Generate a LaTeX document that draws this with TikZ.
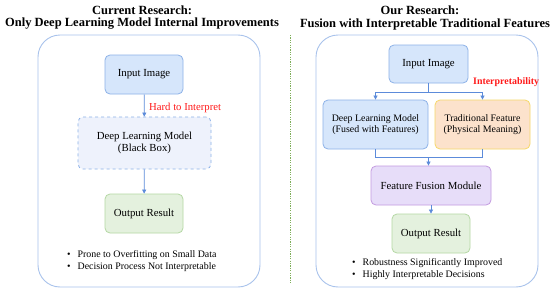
\documentclass[tikz,border=0pt]{standalone}
\usepackage{fontspec}
\setmainfont{Liberation Serif}
\usetikzlibrary{arrows.meta}
\definecolor{panelc}{HTML}{A9C3EC}
\definecolor{bluefill}{HTML}{D6E6FB}
\definecolor{blueline}{HTML}{8DB2E8}
\definecolor{dashfill}{HTML}{EEF2FC}
\definecolor{greenfill}{HTML}{E4F1DE}
\definecolor{greenline}{HTML}{B5D8A4}
\definecolor{orangefill}{HTML}{FCE2CC}
\definecolor{orangeline}{HTML}{F6D869}
\definecolor{purplefill}{HTML}{E7DDF9}
\definecolor{purpleline}{HTML}{C39BE0}
\definecolor{arrowc}{HTML}{5C8BDA}
\definecolor{redc}{HTML}{FF1A1A}
\definecolor{sepc}{HTML}{7FAE5A}
\tikzset{
  panel/.style={draw=panelc, line width=0.9pt, rounded corners=22pt},
  boxbase/.style={rounded corners=5pt, line width=0.8pt, align=center, inner sep=0pt, font=\fontsize{10.8}{12.5}\selectfont},
  smalltext/.style={font=\fontsize{9.9}{11.5}\selectfont},
  bluebox/.style={boxbase, draw=blueline, fill=bluefill},
  dashbox/.style={boxbase, draw=blueline, fill=dashfill, dashed},
  greenbox/.style={boxbase, draw=greenline, fill=greenfill},
  orangebox/.style={boxbase, draw=orangeline, fill=orangefill},
  purplebox/.style={boxbase, draw=purpleline, fill=purplefill},
  conn/.style={draw=arrowc, line width=0.7pt},
  arr/.style={conn, -{Triangle[length=4pt,width=4pt]}},
  titletext/.style={font=\fontsize{12.5}{14}\bfseries\selectfont, align=center},
  redlabel/.style={text=redc, font=\fontsize{10.7}{12}\selectfont, inner sep=0pt},
  bullettext/.style={font=\fontsize{9.9}{12}\selectfont, align=left, inner sep=0pt, anchor=north west}
}
\begin{document}
\begin{tikzpicture}[x=1pt,y=-1pt]
\useasboundingbox (0,0) rectangle (550,292);
\fill[white] (0,0) rectangle (550,292);
% titles
\node[titletext] (t1a) at (142,10) {Current Research:};
\node[titletext] (t1b) at (142,24) {Only Deep Learning Model Internal Improvements};
\node[titletext] (t2a) at (420,10) {Our Research:};
\node[titletext] (t2b) at (425,24) {Fusion with Interpretable Traditional Features};
% separator
\coordinate (s1) at (290,35);
\coordinate (s2) at (290,284);
\draw[sepc, line width=0.8pt, dash pattern=on 1.2pt off 1.2pt] (s1) -- (s2);
% panels
\draw[panel] (38,35) rectangle (260,287);
\draw[panel] (316,35) rectangle (538,287);
% left flow
\node[bluebox, minimum width=78pt, minimum height=39pt] (lin) at (144,74.5) {Input Image};
\node[dashbox, minimum width=133pt, minimum height=52pt] (ldl) at (144.5,143) {Deep Learning Model\\(Black Box)};
\node[greenbox, minimum width=78pt, minimum height=39pt] (lout) at (144,213.5) {Output Result};
\draw[arr] (lin) -- (ldl);
\draw[arr] (ldl) -- (lout);
\node[redlabel, anchor=west] (hard) at (149,108) {Hard to Interpret};
\node[bullettext] (lb) at (67,250) {\textbullet\hspace{7pt}Prone to Overfitting on Small Data\\\textbullet\hspace{7pt}Decision Process Not Interpretable};
% right flow
\node[bluebox, minimum width=79pt, minimum height=38pt] (rin) at (428.5,64) {Input Image};
\node[bluebox, smalltext, minimum width=105pt, minimum height=49pt] (rdl) at (375.5,124.5) {Deep Learning Model\\(Fused with Features)};
\node[orangebox, smalltext, minimum width=95pt, minimum height=49pt] (rtf) at (482.5,124.5) {Traditional Feature\\(Physical Meaning)};
\node[purplebox, minimum width=120pt, minimum height=39pt] (rff) at (431,185.5) {Feature Fusion Module};
\node[greenbox, minimum width=78pt, minimum height=39pt] (rout) at (431,233.5) {Output Result};
\coordinate (sp) at (428.5,92);
\coordinate (mg) at (428.5,157);
\draw[conn] (rin.south) -- (sp);
\draw[arr] (sp) -| (rdl.north);
\draw[arr] (sp) -| (rtf.north);
\draw[conn] (rdl.south) |- (mg);
\draw[conn] (rtf.south) |- (mg);
\draw[arr] (mg) -- (rff.north -| mg);
\draw[arr] (rff) -- (rout);
\node[redlabel, anchor=west, font=\fontsize{9.9}{11}\bfseries\selectfont] (interp) at (473,82) {Interpretability};
\node[bullettext] (rb) at (352,258) {\textbullet\hspace{7pt}Robustness Significantly Improved\\\textbullet\hspace{7pt}Highly Interpretable Decisions};
\end{tikzpicture}
\end{document}
